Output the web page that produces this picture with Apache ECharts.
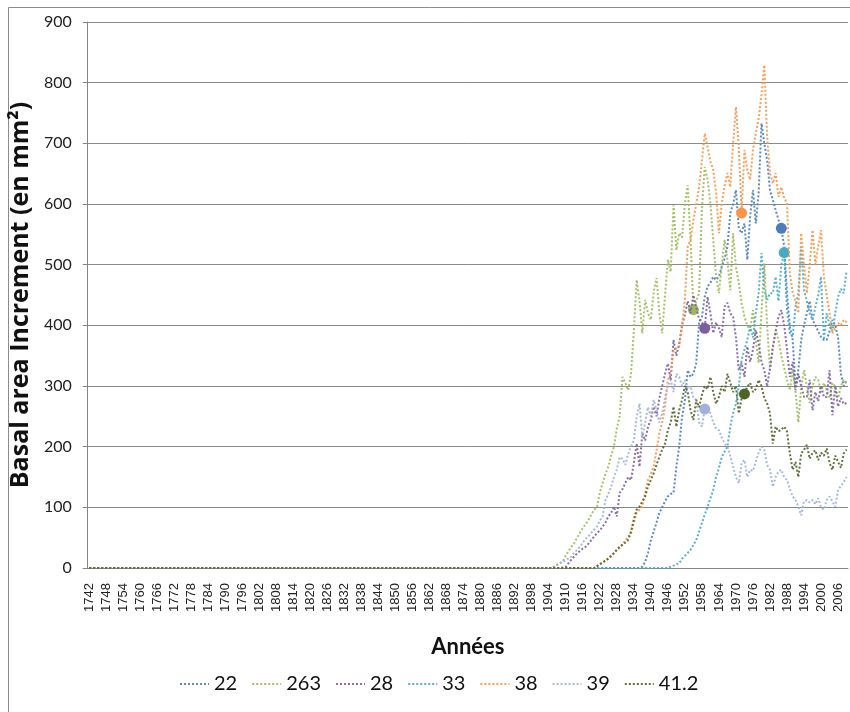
<!DOCTYPE html>
<html>
<head>
<meta charset="utf-8">
<script src="https://cdn.jsdelivr.net/npm/echarts@6/dist/echarts.min.js"></script>
<style>
  html, body { margin: 0; padding: 0; background: #ffffff; }
  #chart { width: 850px; height: 712px; }
</style>
</head>
<body>
<div id="chart"></div>
<script>
// Year axis: one category per year
const FIRST_YEAR = 1742;
const LAST_YEAR = 2009;
const years = [];
for (let y = FIRST_YEAR; y <= LAST_YEAR; y++) years.push(String(y));

// Tree identifiers
const seriesNames = ['22', '263', '28', '33', '38', '39', '41.2'];

// First year of each record (BAI is 0 before that year)
const startYears = [1936, 1905, 1908, 1945, 1920, 1905, 1920];

// Basal area increment, mm² per year
const bai22 = [
  0, 2, 10, 25,
  46, 60, 75, 91, 100, 110, 118, 122, 124, 167,
  200, 249, 277, 326, 315, 320, 338, 404, 414, 447,
  464, 470, 480, 475, 480, 497, 510, 530, 585, 600,
  623, 560, 552, 568, 508, 580, 623, 568, 618, 733,
  700, 672, 623, 607, 590, 574, 560, 530, 453, 398,
  376, 299, 326, 376, 400, 420, 440, 409, 400, 390,
  381, 376, 376, 390, 409, 400, 380, 320, 300, 310
];
const bai263 = [
  0, 3, 6, 8, 12,
  20, 28, 35, 41, 50, 58, 66, 72, 79, 88,
  96, 100, 124, 140, 155, 167, 185, 200, 230, 250,
  315, 305, 293, 320, 390, 475, 440, 387, 442, 420,
  409, 455, 478, 420, 387, 450, 508, 488, 598, 524,
  552, 545, 600, 631, 540, 426, 440, 453, 590, 661,
  640, 601, 540, 480, 453, 500, 541, 508, 458, 552,
  496, 470, 437, 414, 400, 392, 425, 376, 338, 420,
  502, 400, 326, 360, 392, 376, 350, 330, 310, 293,
  326, 290, 240, 298, 326, 300, 272, 300, 315, 310,
  290, 305, 293, 280, 305, 300, 280, 300, 310, 305
];
const bai28 = [
  0, 1,
  2, 8, 14, 19, 24, 28, 32, 35, 40, 46,
  52, 57, 62, 68, 75, 85, 91, 101, 85, 124,
  130, 140, 150, 145, 173, 205, 167, 222, 210, 233,
  244, 266, 250, 280, 300, 320, 337, 310, 376, 350,
  370, 400, 417, 440, 420, 450, 430, 410, 405, 395,
  447, 420, 387, 405, 395, 381, 431, 437, 420, 414,
  380, 326, 338, 315, 365, 340, 360, 392, 370, 340,
  326, 299, 330, 365, 390, 414, 425, 400, 360, 315,
  340, 293, 320, 300, 282, 282, 310, 260, 290, 275,
  300, 282, 282, 326, 252, 300, 266, 280, 270, 272
];
const bai33 = [
  0, 0, 2, 4, 6,
  8, 15, 20, 25, 30, 38, 46, 60, 74, 88,
  101, 115, 129, 150, 165, 183, 192, 200, 233, 255,
  271, 299, 343, 360, 376, 398, 380, 420, 453, 519,
  460, 442, 453, 453, 480, 440, 500, 520, 425, 387,
  381, 430, 453, 530, 458, 440, 420, 409, 430, 450,
  480, 376, 420, 400, 390, 420, 447, 460, 453, 490
];
const bai38 = [
  0, 3, 6, 9, 12, 15, 19, 24, 29, 33,
  40, 45, 52, 57, 75, 91, 96, 101, 125, 145,
  155, 167, 194, 222, 240, 266, 310, 320, 359, 362,
  365, 400, 442, 530, 541, 574, 600, 628, 672, 716,
  694, 670, 656, 618, 552, 601, 630, 651, 628, 700,
  760, 694, 585, 689, 656, 640, 689, 717, 740, 780,
  829, 711, 651, 634, 651, 612, 628, 610, 601, 486,
  453, 440, 420, 552, 500, 453, 500, 557, 500, 530,
  557, 480, 450, 420, 387, 395, 404, 400, 409, 405
];
const bai39 = [
  0, 2, 5, 8, 10,
  13, 16, 19, 25, 30, 35, 42, 48, 52, 58,
  63, 68, 78, 85, 112, 122, 134, 150, 162, 183,
  180, 170, 188, 200, 210, 249, 271, 216, 240, 265,
  250, 277, 260, 240, 255, 280, 300, 310, 290, 320,
  315, 300, 310, 295, 300, 280, 277, 240, 233, 262,
  265, 255, 240, 230, 227, 215, 205, 200, 185, 167,
  150, 140, 173, 178, 150, 162, 160, 175, 190, 200,
  195, 170, 162, 134, 150, 159, 162, 150, 145, 130,
  118, 112, 101, 87, 110, 112, 108, 112, 105, 115,
  100, 96, 112, 118, 110, 101, 129, 135, 142, 150
];
const bai41_2 = [
  0, 3, 6, 9, 12, 16, 20, 25, 30, 35,
  38, 42, 46, 60, 80, 96, 101, 110, 118, 135,
  145, 156, 170, 183, 195, 205, 227, 240, 266, 233,
  260, 277, 300, 290, 260, 244, 277, 265, 285, 300,
  295, 315, 290, 271, 282, 300, 290, 320, 305, 290,
  300, 255, 280, 287, 299, 305, 290, 295, 310, 300,
  280, 271, 255, 205, 233, 225, 228, 233, 225, 189,
  162, 175, 150, 189, 195, 203, 180, 190, 194, 178,
  190, 185, 197, 173, 162, 185, 175, 165, 189, 195
];

// Year singled out with a large dot on each curve
const highlightYears = [1986, 1955, 1959, 1987, 1972, 1959, 1973];

const seriesValues = [bai22, bai263, bai28, bai33, bai38, bai39, bai41_2];
const palette = ['#4a7ebb', '#9bbb59', '#7d5fa0', '#46aac5', '#f79646', '#9fb1dc', '#4f6228'];

const FONT = 'Lato, "Noto Sans", sans-serif';

function buildSeries(i) {
  const lead = [];
  for (let y = FIRST_YEAR; y < startYears[i]; y++) lead.push(0);
  const full = lead.concat(seriesValues[i]);
  const hIdx = highlightYears[i] - FIRST_YEAR;
  const data = full.map((v, idx) => idx === hIdx
    ? { value: v, symbol: 'circle', symbolSize: 11, itemStyle: { color: palette[i], opacity: 1 } }
    : v);
  return {
    name: seriesNames[i],
    type: 'line',
    data: data,
    symbol: 'none',
    showSymbol: true,
    showAllSymbol: true,
    animation: false,
    z: 2 + i,
    lineStyle: { color: palette[i], width: 2, type: [2, 2], cap: 'butt', opacity: 0.9 },
    itemStyle: { color: palette[i] },
    emphasis: { disabled: true }
  };
}

const chart = echarts.init(document.getElementById('chart'), null, { renderer: 'canvas' });
chart.setOption({
  backgroundColor: '#ffffff',
  animation: false,
  color: palette,
  textStyle: { fontFamily: FONT },
  graphic: [{
    type: 'rect',
    shape: { x: 8.5, y: 7.5, width: 860, height: 720 },
    style: { fill: 'none', stroke: '#8c8c8c', lineWidth: 1 },
    silent: true, z: -1
  }],
  grid: { left: 82, right: 2, top: 22, height: 546, containLabel: false },
  legend: {
    data: seriesNames.map(n => ({ name: n, itemStyle: { opacity: 0 } })),
    left: 174,
    top: 669,
    itemWidth: 29,
    itemHeight: 14,
    itemGap: 14,
    itemStyle: { opacity: 0 },
    textStyle: { fontFamily: FONT, fontSize: 20, color: '#111', padding: [0, 0, 0, 0] }
  },
  xAxis: {
    type: 'category',
    data: years,
    boundaryGap: true,
    name: 'Années',
    nameLocation: 'middle',
    nameGap: 68,
    nameTextStyle: { fontFamily: FONT, fontSize: 22, fontWeight: 'bold', color: '#111' },
    axisLine: { lineStyle: { color: '#868686', width: 1 } },
    axisTick: { interval: 0, length: 4, lineStyle: { color: '#868686' } },
    axisLabel: {
      interval: 5,
      rotate: 90,
      margin: 15,
      fontFamily: '"Liberation Sans", Arial, sans-serif',
      fontSize: 13,
      color: '#222'
    },
    splitLine: { show: false }
  },
  yAxis: {
    type: 'value',
    min: 0,
    max: 900,
    interval: 100,
    name: 'Basal area Increment (en mm²)',
    nameLocation: 'middle',
    nameGap: 45,
    nameTextStyle: { fontFamily: '"Open Sans", sans-serif', fontSize: 25, fontWeight: 'bold', color: '#111' },
    axisLine: { show: true, lineStyle: { color: '#868686', width: 1 } },
    axisTick: { show: true, length: 5, lineStyle: { color: '#868686' } },
    axisLabel: { margin: 16, fontFamily: FONT, fontSize: 16, color: '#222' },
    splitLine: { show: true, lineStyle: { color: '#8a8a8a', width: 1 } }
  },
  series: seriesNames.map((_, i) => buildSeries(i))
});
</script>
</body>
</html>
